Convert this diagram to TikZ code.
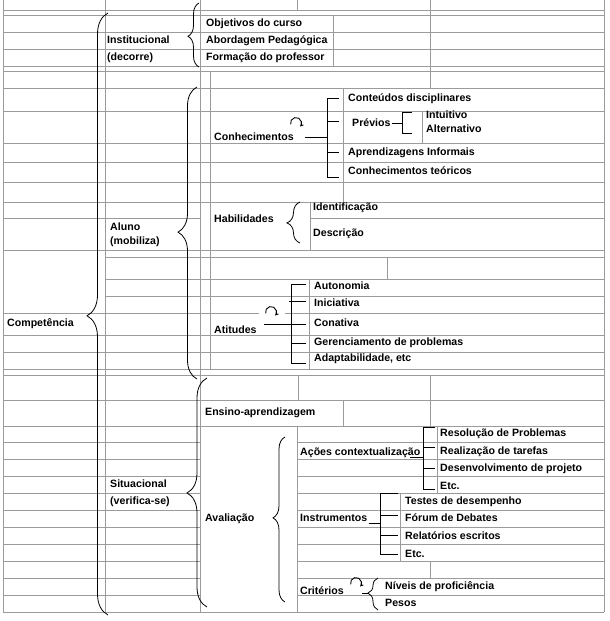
\documentclass[tikz,border=0pt]{standalone}
\usepackage{fontspec}
\setmainfont{Liberation Sans}
\usetikzlibrary{decorations.pathreplacing,arrows.meta}
\definecolor{gridgray}{RGB}{155,155,155}
\begin{document}
\begin{tikzpicture}[x=1pt,y=-1pt,
  grid/.style={draw=gridgray, line width=0.9pt},
  lbl/.style={anchor=west, inner sep=0pt, text height=7pt, text depth=0pt, font=\fontsize{10.6}{12}\selectfont\bfseries},
  ink/.style={draw=black, line width=0.8pt},
  turn/.style={draw=black, line width=0.9pt, -{Stealth[length=3.6pt,width=4pt]}},
]
\useasboundingbox (0,0) rectangle (610,621);
\fill[white] (0,0) rectangle (610,621);

% ---------------- grid ----------------
\foreach \y in {10,15,32,49,66,71,88,111,143,162,182,202,250,313,335,352,369,375,400,426,612}
  \draw[grid] (3,\y) -- (604,\y);
\foreach \y in {257,279,296}
  \draw[grid] (105,\y) -- (604,\y);
\draw[grid] (3,218) -- (200,218);
\draw[grid] (310,218) -- (604,218);
\foreach \k in {1,...,10}{
  \draw[grid] (3,{426+16.9*\k}) -- (200,{426+16.9*\k});
  \draw[grid] (297,{426+16.9*\k}) -- (604,{426+16.9*\k});
}
\foreach \x in {3,105,200,604}
  \draw[grid] (\x,0) -- (\x,612);
\draw[grid] (210,71) -- (210,369);
\draw[grid] (297,0) -- (297,10);
\draw[grid] (333,15) -- (333,66);
\draw[grid] (430,0) -- (430,88);
\draw[grid] (343,88) -- (343,202);
\draw[grid] (422,111) -- (422,143);
\draw[grid] (310,202) -- (310,250);
\draw[grid] (387,257) -- (387,279);
\draw[grid] (309,279) -- (309,369);
\draw[grid] (298,375) -- (298,400);
\draw[grid] (430,375) -- (430,426);
\draw[grid] (343,400) -- (343,426);
\draw[grid] (297,426) -- (297,612);
\draw[grid] (437,426) -- (437,493.6);
\draw[grid] (400,493.6) -- (400,561.2);
\draw[grid] (430,561.2) -- (430,578.1);

% ---------------- labels ----------------
\node[lbl] (inst)  at (107,40)  {Institucional};
\node[lbl] (instb) at (107,57)  {(decorre)};
\node[lbl] (obj)   at (206,23)  {Objetivos do curso};
\node[lbl] (abo)   at (206,40)  {Abordagem Pedagógica};
\node[lbl] (form)  at (206,57)  {Formação do professor};
\node[lbl] (comp)  at (7,323)   {Competência};
\node[lbl] (aluno) at (110,227) {Aluno};
\node[lbl] (alunob) at (110,241) {(mobiliza)};
\node[lbl] (conh)  at (214,137) {Conhecimentos};
\node[lbl] (cont)  at (348,98)  {Conteúdos disciplinares};
\node[lbl] (prev)  at (352,123) {Prévios};
\node[lbl] (intu)  at (426,115) {Intuitivo};
\node[lbl] (alte)  at (426,129) {Alternativo};
\node[lbl] (apre)  at (348,152) {Aprendizagens Informais};
\node[lbl] (teor)  at (348,171) {Conhecimentos teóricos};
\node[lbl] (hab)   at (214,219) {Habilidades};
\node[lbl] (iden)  at (313,207) {Identificação};
\node[lbl] (desc)  at (313,233) {Descrição};
\node[lbl] (atit)  at (214,330) {Atitudes};
\node[lbl] (auto)  at (314,286) {Autonomia};
\node[lbl] (inic)  at (314,303) {Iniciativa};
\node[lbl] (conat) at (314,323) {Conativa};
\node[lbl] (ger)   at (314,342) {Gerenciamento de problemas};
\node[lbl] (adap)  at (314,358) {Adaptabilidade, etc};
\node[lbl] (sit)   at (110,484) {Situacional};
\node[lbl] (sitb)  at (110,501) {(verifica-se)};
\node[lbl] (ens)   at (205,412) {Ensino-aprendizagem};
\node[lbl] (aval)  at (205,518) {Avaliação};
\node[lbl] (acoes) at (300,452) {Ações contextualização};
\node[lbl] (reso)  at (440,433) {Resolução de Problemas};
\node[lbl] (real)  at (440,451) {Realização de tarefas};
\node[lbl] (dese)  at (440,468) {Desenvolvimento de projeto};
\node[lbl] (etca)  at (440,486) {Etc.};
\node[lbl] (instr) at (300,518) {Instrumentos};
\node[lbl] (test)  at (405,501) {Testes de desempenho};
\node[lbl] (foru)  at (405,518) {Fórum de Debates};
\node[lbl] (rela)  at (405,536) {Relatórios escritos};
\node[lbl] (etcb)  at (405,554) {Etc.};
\node[lbl] (crit)  at (300,591) {Critérios};
\node[lbl] (nive)  at (385,586) {Níveis de proficiência};
\node[lbl] (peso)  at (385,603) {Pesos};

% ---------------- braces ----------------
\draw[ink, decorate, decoration={brace, amplitude=11pt, aspect=0.48}] (199,67) -- (199,3);
\draw[ink, decorate, decoration={brace, amplitude=21pt, aspect=0.497}] (108,615) -- (108,13);
\draw[ink, decorate, decoration={brace, amplitude=19pt, aspect=0.503}] (197,379) -- (197,87);
\draw[ink, decorate, decoration={brace, amplitude=20pt, aspect=0.498}] (207,607) -- (207,378);
\draw[ink, decorate, decoration={brace, amplitude=13pt, aspect=0.49}] (300,243) -- (300,202);
\draw[ink, decorate, decoration={brace, amplitude=12pt, aspect=0.51}] (285,602) -- (285,437);
\draw[ink, decorate, decoration={brace, amplitude=10pt, aspect=0.53}] (378,610) -- (378,578);

% ---------------- Conhecimentos tree ----------------
\coordinate (cstem) at (327,137);
\draw[ink] ([xshift=11pt]conh.east) -- (cstem);
\draw[ink] (339,98) -| (327,177) -- (339,177);
\draw[ink] (327,121) -- (339,121);
\draw[ink] (327,152) -- (339,152);
\draw[turn] (296,123) ++(165:5.5) arc[start angle=165, end angle=400, radius=5.5];
% Previos
\coordinate (pstem) at (402,123);
\draw[ink] ([xshift=1pt]prev.east) -- (pstem);
\draw[ink] (412,112) -| (402,133) -- (412,133);

% ---------------- Atitudes tree ----------------
\fill[white] (259,304) rectangle (285,319);
\draw[turn] (271,312) ++(165:5.5) arc[start angle=165, end angle=400, radius=5.5];
\coordinate (astem) at (291,324);
\draw[ink] ([xshift=7pt]atit.east |- astem) -- (306,324);
\draw[ink] (306,284) -| (291,363) -- (306,363);
\draw[ink] (289,301) -- (306,301);
\draw[ink] (291,343) -- (306,343);

% ---------------- Acoes tree ----------------
\coordinate (xstem) at (423,457);
\draw[ink] (410,457) -- (xstem);
\draw[ink] (435,427) -| (423,489) -- (435,489);
\draw[ink] (423,447) -- (435,447);
\draw[ink] (423,468) -- (435,468);

% ---------------- Instrumentos tree ----------------
\coordinate (istem) at (380,523);
\draw[ink] ([xshift=1pt]instr.east |- istem) -- (istem);
\draw[ink] (398,493) -| (380,554) -- (398,554);
\draw[ink] (380,515) -- (398,515);
\draw[ink] (380,535) -- (398,535);

% ---------------- Criterios ----------------
\draw[turn] (356,583) ++(165:5.5) arc[start angle=165, end angle=400, radius=5.5];
\draw[ink] (362,593) -- (368,593);
\end{tikzpicture}
\end{document}
